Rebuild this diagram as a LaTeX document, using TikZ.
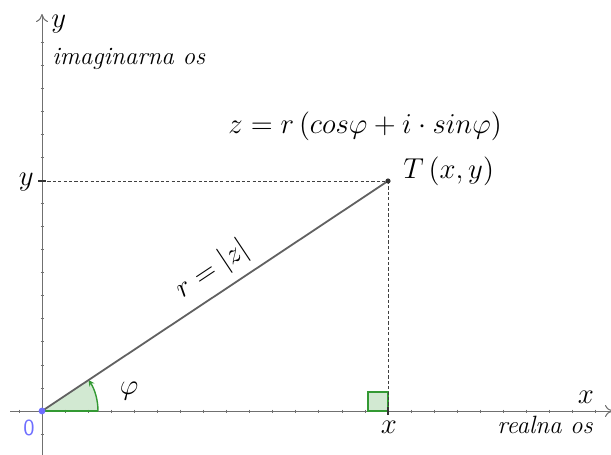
\documentclass[tikz,border=0pt]{standalone}
\usetikzlibrary{arrows.meta,calc}
\definecolor{axisgray}{HTML}{707070}
\definecolor{seggray}{HTML}{616161}
\definecolor{anggreen}{HTML}{339933}
\definecolor{originblue}{HTML}{6E6EFF}
\begin{document}
\begin{tikzpicture}[x=0.5pt,y=-0.5pt,
  axisline/.style={draw=axisgray,line width=0.5pt},
  tickline/.style={draw=axisgray,line width=0.35pt},
  majortick/.style={draw=black!80,line width=0.6pt},
  helper/.style={draw=black!75,line width=0.45pt,dash pattern=on 1.6pt off 1.1pt},
  seg/.style={draw=seggray,line width=0.9pt},
  lbl/.style={inner sep=0pt,font=\fontsize{12.5}{14}\selectfont},
  mlbl/.style={inner sep=0pt,font=\fontsize{13.5}{15}\selectfont},
  anglefill/.style={fill=anggreen,fill opacity=0.22,draw=anggreen,draw opacity=1,line width=0.7pt}]
\useasboundingbox (0,0) rectangle (611,455);
\def\u{23.0667}
% key points
\coordinate (O) at (42,411);
\coordinate (T) at (388,181);
\coordinate (X) at (388,411);
\coordinate (Y) at (42,181);
\coordinate (xs) at (10,411);
\coordinate (xe) at (613,411);
\coordinate (ys) at (42,455);
\coordinate (ye) at (42,14);
% minor ticks
\foreach \i in {-1,1,2,...,24} \draw[tickline] ({42+\i*\u},409.5) -- ({42+\i*\u},412.5);
\foreach \j in {-1,1,2,...,16} \draw[tickline] (40.5,{411-\j*\u}) -- (43.5,{411-\j*\u});
% axes
\draw[axisline,-{To[length=4pt,width=6pt]}] (xs) -- (xe);
\draw[axisline,-{To[length=4pt,width=6pt]}] (ys) -- (ye);
% right angle marker
\draw[anglefill,line width=0.6pt] (X) rectangle ($(X)+(-20,-19)$);
% angle sector
\fill[anggreen,fill opacity=0.22] (O) -- (98,411) arc[start angle=0,end angle=-33.61,radius=56] -- cycle;
\draw[anggreen,line width=0.7pt] (O) -- (98,411);
\draw[anggreen,line width=0.7pt,-{Stealth[length=3pt,width=3pt]}] (98,411) arc[start angle=0,end angle=-33.61,radius=56];
% helper dashed lines
\draw[helper] (Y) -- (T);
\draw[helper] (T) -- (X);
% major ticks
\draw[majortick] ($(X)+(0,-4)$) -- ($(X)+(0,4)$);
\draw[majortick] ($(Y)+(-4,0)$) -- ($(Y)+(4,0)$);
% segment
\draw[seg] (O) -- node[pos=0.53,sloped,above=4pt,mlbl] (rlab) {$r=|z|$} (T);
% points
\fill[black!80] (T) circle (2.6);
\fill[originblue] (O) circle (3.4);
% labels
\node[mlbl,anchor=base west] (ylab) at (51,27) {$y$};
\node[lbl,anchor=base west] (imag) at (52,64) {\itshape imaginarna os};
\node[mlbl,anchor=base east] (ytick) at (34,185) {$y$};
\node[mlbl,anchor=base] (xtick) at (389,433) {$x$};
\node[mlbl,anchor=base] (xlab) at (586,403) {$x$};
\node[lbl,anchor=base west] (real) at (497,433) {\itshape realna os};
\node[mlbl,anchor=base west] (Tlab) at (403,178) {$T\,(x,y)$};
\node[mlbl,anchor=base west] (form) at (228,133) {$z=r\,(cos\varphi+i\cdot sin\varphi)$};
\node[mlbl] (phi) at (129,391) {$\varphi$};
\node[inner sep=0pt,text=originblue,font=\sffamily\fontsize{11.5}{13}\selectfont] (zero) at (29,428) {0};
\end{tikzpicture}
\end{document}
